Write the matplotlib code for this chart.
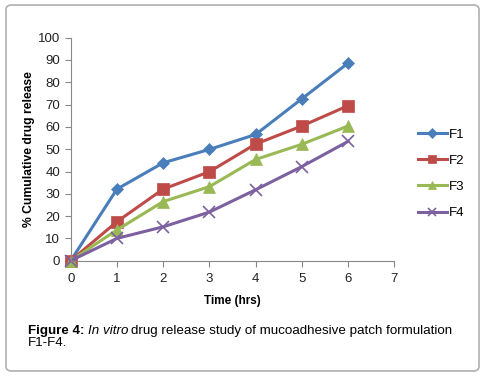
import matplotlib.pyplot as plt
from matplotlib.patches import FancyBboxPatch

plt.rcParams['font.family'] = ['Liberation Sans', 'DejaVu Sans']

# data
hours = [0, 1, 2, 3, 4, 5, 6]
f1 = [0, 32.1, 43.9, 49.9, 56.6, 72.6, 88.6]
f2 = [0, 17.5, 32.1, 39.9, 52.3, 60.4, 69.5]
f3 = [0, 13.8, 26.5, 33.2, 45.4, 52.2, 60.4]
f4 = [0, 10.0, 15.2, 21.8, 31.8, 42.2, 53.5]
names = ['F1', 'F2', 'F3', 'F4']

series = [f1, f2, f3, f4]
colors = ['#4A7EBB', '#BE4B48', '#98B954', '#7D60A0']
markers = ['D', 's', '^', 'x']
msizes = [6, 8, 8, 8]

fig = plt.figure(figsize=(4.88, 3.76), dpi=100)

# rounded frame around figure
frame = FancyBboxPatch((6 / 488, 5 / 376), 473 / 488, 366 / 376,
                       boxstyle='round,pad=0,rounding_size=0.012',
                       transform=fig.transFigure, fill=False,
                       edgecolor='#b0b0b0', linewidth=1.2)
fig.patches.append(frame)

ax = fig.add_axes([70.7 / 488, 1 - 260.7 / 376, (394.3 - 70.7) / 488, (260.7 - 37.7) / 376])

for ys, c, m, ms, n in zip(series, colors, markers, msizes, names):
    ax.plot(hours, ys, color=c, marker=m, markersize=ms, linewidth=2.2,
            markeredgewidth=1.2 if m == 'x' else 0.5, label=n, clip_on=False)

ax.set_xlim(0, 7)
ax.set_ylim(0, 100)
ax.set_xticks(range(0, 8))
ax.set_yticks(range(0, 101, 10))
for s in ['top', 'right']:
    ax.spines[s].set_visible(False)
for s in ['left', 'bottom']:
    ax.spines[s].set_color('#888888')
    ax.spines[s].set_linewidth(0.8)
ax.tick_params(axis='both', direction='out', length=4, color='#888888',
               labelsize=9.5, labelcolor='#222222')
ax.tick_params(axis='x', pad=5)

ax.set_xlabel('Time (hrs)', fontsize=8.5, fontweight='bold', labelpad=7)
ax.set_ylabel('% Cumulative drug release', fontsize=8.7, fontweight='bold', labelpad=2)

leg = ax.legend(loc='center left', bbox_to_anchor=(1.073, 0.389), frameon=False,
                fontsize=9.5, handlelength=2.2, handletextpad=0.15, labelspacing=1.05,
                markerscale=0.8, borderaxespad=0, borderpad=0)

cap_y = 1 - 331 / 376
t1 = fig.text(28 / 488, cap_y, 'Figure 4:', fontsize=9.6, va='center', fontweight='bold')
fig.canvas.draw()
bb = t1.get_window_extent()
t2 = fig.text((bb.x1 + 3) / 488, cap_y, 'In vitro', fontsize=9.6, va='center', style='italic')
bb2 = t2.get_window_extent()
fig.text((bb2.x1 + 3) / 488, cap_y,
         'drug release study of mucoadhesive patch formulation',
         fontsize=9.6, va='center')
fig.text(28 / 488, 1 - 343.5 / 376, 'F1-F4.', fontsize=9.6, va='center')

fig.savefig('out.png', dpi=100)
